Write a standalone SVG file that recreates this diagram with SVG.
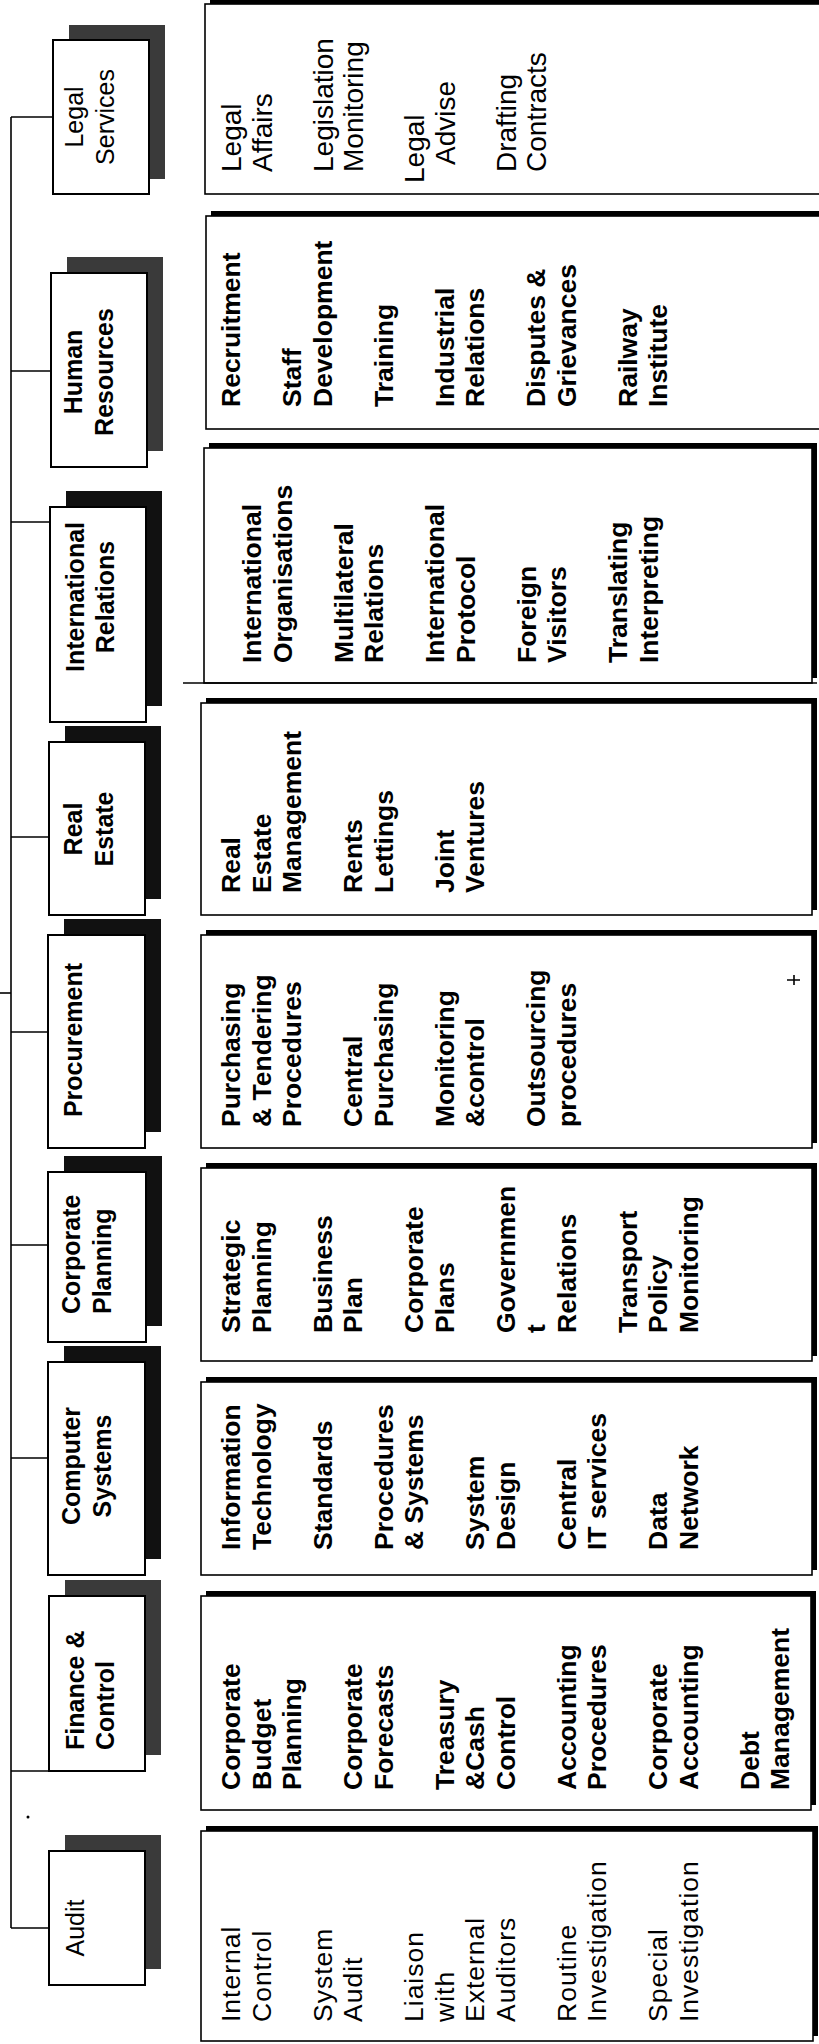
<svg xmlns="http://www.w3.org/2000/svg" width="819" height="2044" viewBox="0 0 819 2044">
<style>
.nb{fill:#fff;stroke:#000;stroke-width:2}
.ns{fill:#111}
.ng{fill:#3a3a3a}
.db{fill:#fff;stroke:#000;stroke-width:1.6}
.ds{fill:#000}
.t{font-family:"Liberation Sans",Arial,sans-serif;font-size:26.5px;fill:#000}
.tl{font-size:28px}
.n{font-family:"Liberation Sans",Arial,sans-serif;font-size:25px;fill:#000;text-anchor:middle}
.ns-start{text-anchor:start}
.b{font-weight:bold}
.c{stroke:#000;stroke-width:1.6;fill:none}
</style>
<rect width="819" height="2044" fill="#fff"/>
<g id="connectors">
<line class="c" x1="11" y1="117" x2="11" y2="1928"/>
<line class="c" x1="11" y1="117" x2="53" y2="117"/>
<line class="c" x1="11" y1="371" x2="51" y2="371"/>
<line class="c" x1="11" y1="522" x2="50" y2="522"/>
<line class="c" x1="11" y1="837" x2="49" y2="837"/>
<line class="c" x1="0" y1="993" x2="11" y2="993"/>
<line class="c" x1="11" y1="1032" x2="48" y2="1032"/>
<line class="c" x1="11" y1="1245" x2="48" y2="1245"/>
<line class="c" x1="11" y1="1458" x2="48" y2="1458"/>
<line class="c" x1="11" y1="1771" x2="49" y2="1771"/>
<line class="c" x1="11" y1="1928" x2="49" y2="1928"/>
</g>
<g id="legal">
<rect class="ng" x="69" y="25" width="96" height="154"/>
<rect class="nb" x="53" y="40" width="96" height="154"/>
<text class="n" transform="translate(83,117) rotate(-90)"><tspan x="0" y="0">Legal</tspan><tspan x="0" y="31">Services</tspan></text>
<rect class="ds" x="210" y="0" width="630" height="189"/>
<rect class="db" x="205" y="4" width="630" height="190"/>
<text class="t tl" transform="translate(241,172) rotate(-90)"><tspan x="0" y="0">Legal</tspan><tspan x="0" y="30.5">Affairs</tspan><tspan x="0" y="91.5">Legislation</tspan><tspan x="0" y="122">Monitoring</tspan><tspan x="-11" y="183">Legal</tspan><tspan x="7" y="213.5">Advise</tspan><tspan x="0" y="274.5">Drafting</tspan><tspan x="0" y="305">Contracts</tspan></text>
</g>
<g id="human-resources">
<rect class="ng" x="67" y="257" width="96" height="194"/>
<rect class="nb" x="51" y="273" width="96" height="194"/>
<text class="n b" transform="translate(82,372) rotate(-90)"><tspan x="0" y="0">Human</tspan><tspan x="0" y="31">Resources</tspan></text>
<rect class="ds" x="211" y="211" width="630" height="213"/>
<rect class="db" x="206" y="216" width="630" height="213"/>
<text class="t b" transform="translate(240,407) rotate(-90)"><tspan x="0" y="0">Recruitment</tspan><tspan x="0" y="61">Staff</tspan><tspan x="0" y="91.5">Development</tspan><tspan x="0" y="152.5">Training</tspan><tspan x="0" y="213.5">Industrial</tspan><tspan x="0" y="244">Relations</tspan><tspan x="0" y="305">Disputes &amp;</tspan><tspan x="0" y="335.5">Grievances</tspan><tspan x="0" y="396.5">Railway</tspan><tspan x="0" y="427">Institute</tspan></text>
</g>
<g id="international-relations">
<rect class="ns" x="66" y="491" width="96" height="215"/>
<rect class="nb" x="50" y="507" width="96" height="215"/>
<text class="n b" transform="translate(84,597) rotate(-90)"><tspan x="0" y="0">International</tspan><tspan x="0" y="30">Relations</tspan></text>
<rect class="ds" x="209" y="443" width="608" height="235"/>
<rect class="db" x="204" y="448" width="608" height="235"/>
<line class="c" x1="183" y1="683" x2="817" y2="683" stroke-width="2.5"/>
<text class="t b" transform="translate(261,663) rotate(-90)"><tspan x="0" y="0">International</tspan><tspan x="0" y="30.5">Organisations</tspan><tspan x="0" y="91.5">Multilateral</tspan><tspan x="0" y="122">Relations</tspan><tspan x="0" y="183">International</tspan><tspan x="0" y="213.5">Protocol</tspan><tspan x="0" y="274.5">Foreign</tspan><tspan x="0" y="305">Visitors</tspan><tspan x="0" y="366">Translating</tspan><tspan x="0" y="396.5">Interpreting</tspan></text>
</g>
<g id="real-estate">
<rect class="ns" x="65" y="726" width="96" height="173"/>
<rect class="nb" x="49" y="742" width="96" height="173"/>
<text class="n b" transform="translate(82,829) rotate(-90)"><tspan x="0" y="0">Real</tspan><tspan x="0" y="31">Estate</tspan></text>
<rect class="ds" x="206" y="698" width="611" height="212"/>
<rect class="db" x="201" y="703" width="611" height="212"/>
<text class="t b" transform="translate(240,893) rotate(-90)"><tspan x="0" y="0">Real</tspan><tspan x="0" y="30.5">Estate</tspan><tspan x="0" y="61">Management</tspan><tspan x="0" y="122">Rents</tspan><tspan x="0" y="152.5">Lettings</tspan><tspan x="0" y="213.5">Joint</tspan><tspan x="0" y="244">Ventures</tspan></text>
</g>
<g id="procurement">
<rect class="ns" x="64" y="919" width="97" height="213"/>
<rect class="nb" x="48" y="935" width="97" height="213"/>
<text class="n b" transform="translate(82,1040) rotate(-90)">Procurement</text>
<rect class="ds" x="206" y="930" width="611" height="213"/>
<rect class="db" x="201" y="935" width="611" height="213"/>
<text class="t b" transform="translate(240,1127) rotate(-90)"><tspan x="0" y="0">Purchasing</tspan><tspan x="0" y="30.5">&amp; Tendering</tspan><tspan x="0" y="61">Procedures</tspan><tspan x="0" y="122">Central</tspan><tspan x="0" y="152.5">Purchasing</tspan><tspan x="0" y="213.5">Monitoring</tspan><tspan x="0" y="244">&amp;control</tspan><tspan x="0" y="305">Outsourcing</tspan><tspan x="0" y="335.5">procedures</tspan></text>
<path class="c" d="M787 980H800M794 975V985"/>
</g>
<g id="corporate-planning">
<rect class="ns" x="64" y="1156" width="98" height="170"/>
<rect class="nb" x="48" y="1172" width="98" height="170"/>
<text class="n b ns-start" transform="translate(80,1314) rotate(-90)"><tspan x="0" y="0">Corporate</tspan><tspan x="0" y="31">Planning</tspan></text>
<rect class="ds" x="206" y="1163" width="611" height="193"/>
<rect class="db" x="201" y="1168" width="611" height="193"/>
<text class="t b" transform="translate(240,1333) rotate(-90)"><tspan x="0" y="0">Strategic</tspan><tspan x="0" y="30.5">Planning</tspan><tspan x="0" y="91.5">Business</tspan><tspan x="0" y="122">Plan</tspan><tspan x="0" y="183">Corporate</tspan><tspan x="0" y="213.5">Plans</tspan><tspan x="0" y="274.5">Governmen</tspan><tspan x="0" y="305">t</tspan><tspan x="0" y="335.5">Relations</tspan><tspan x="0" y="396.5">Transport</tspan><tspan x="0" y="427">Policy</tspan><tspan x="0" y="457.5">Monitoring</tspan></text>
</g>
<g id="computer-systems">
<rect class="ns" x="64" y="1346" width="97" height="213"/>
<rect class="nb" x="48" y="1362" width="97" height="213"/>
<text class="n b" transform="translate(80,1466) rotate(-90)"><tspan x="0" y="0">Computer</tspan><tspan x="0" y="31">Systems</tspan></text>
<rect class="ds" x="206" y="1377" width="611" height="193"/>
<rect class="db" x="201" y="1382" width="611" height="193"/>
<text class="t b" transform="translate(240,1550) rotate(-90)"><tspan x="0" y="0">Information</tspan><tspan x="0" y="30.5">Technology</tspan><tspan x="0" y="91.5">Standards</tspan><tspan x="0" y="152.5">Procedures</tspan><tspan x="0" y="183">&amp; Systems</tspan><tspan x="0" y="244">System</tspan><tspan x="0" y="274.5">Design</tspan><tspan x="0" y="335.5">Central</tspan><tspan x="0" y="366">IT services</tspan><tspan x="0" y="427">Data</tspan><tspan x="0" y="457.5">Network</tspan></text>
</g>
<g id="finance-control">
<rect class="ng" x="65" y="1580" width="96" height="175"/>
<rect class="nb" x="49" y="1596" width="96" height="175"/>
<text class="n b ns-start" transform="translate(84,1750) rotate(-90)"><tspan x="0" y="0">Finance &amp;</tspan><tspan x="0" y="30">Control</tspan></text>
<rect class="ds" x="206" y="1591" width="610" height="214"/>
<rect class="db" x="201" y="1596" width="610" height="214"/>
<text class="t b" transform="translate(240,1790) rotate(-90)"><tspan x="0" y="0">Corporate</tspan><tspan x="0" y="30.5">Budget</tspan><tspan x="0" y="61">Planning</tspan><tspan x="0" y="122">Corporate</tspan><tspan x="0" y="152.5">Forecasts</tspan><tspan x="0" y="213.5">Treasury</tspan><tspan x="0" y="244">&amp;Cash</tspan><tspan x="0" y="274.5">Control</tspan><tspan x="0" y="335.5">Accounting</tspan><tspan x="0" y="366">Procedures</tspan><tspan x="0" y="427">Corporate</tspan><tspan x="0" y="457.5">Accounting</tspan><tspan x="0" y="518.5">Debt</tspan><tspan x="0" y="549">Management</tspan></text>
</g>
<g id="audit">
<rect class="ng" x="65" y="1835" width="96" height="134"/>
<rect class="nb" x="49" y="1851" width="96" height="134"/>
<text class="n" transform="translate(84,1928) rotate(-90)">Audit</text>
<rect class="ds" x="206" y="1826" width="612" height="210"/>
<rect class="db" x="201" y="1831" width="612" height="210"/>
<text class="t" letter-spacing="1" transform="translate(240,2022) rotate(-90)"><tspan x="0" y="0">Internal</tspan><tspan x="0" y="30.5">Control</tspan><tspan x="0" y="91.5">System</tspan><tspan x="0" y="122">Audit</tspan><tspan x="0" y="183">Liaison</tspan><tspan x="0" y="213.5">with</tspan><tspan x="0" y="244">External</tspan><tspan x="0" y="274.5">Auditors</tspan><tspan x="0" y="335.5">Routine</tspan><tspan x="0" y="366">Investigation</tspan><tspan x="0" y="427">Special</tspan><tspan x="0" y="457.5">Investigation</tspan></text>
</g>
<circle cx="28" cy="1817" r="1.5" fill="#000"/>
</svg>
